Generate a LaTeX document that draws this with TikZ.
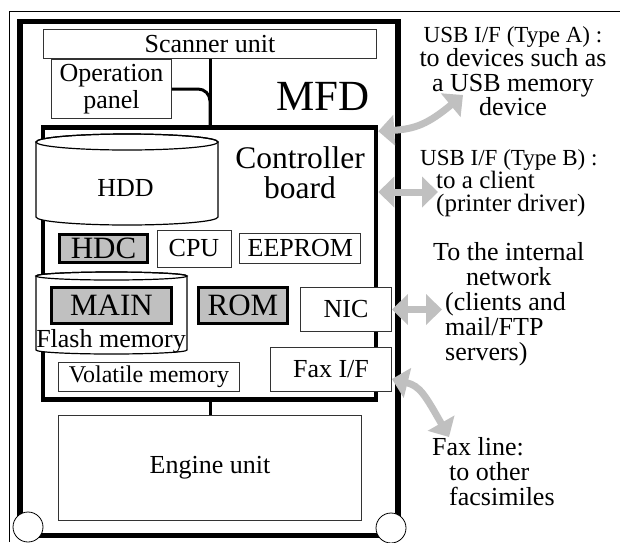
\documentclass[tikz,border=0pt]{standalone}
\usepackage{fontspec}
\setmainfont{Liberation Serif}
\usetikzlibrary{arrows.meta,positioning}

\definecolor{chipgray}{RGB}{192,192,192}
\definecolor{linkgray}{RGB}{192,192,192}

\begin{document}
\begin{tikzpicture}[x=1pt,y=-1pt,
                    box/.style={draw=black!80,line width=0.9pt,fill=white,inner sep=0pt,
                                font=\fontsize{26}{27}\selectfont},
                    chip/.style={draw,line width=3pt,fill=chipgray,inner sep=0pt,
                                 font=\fontsize{31}{31}\selectfont},
                    bus/.style={line width=3pt},
                    link/.style={draw=linkgray,line width=7pt,
                                 {Triangle[width=30pt,length=16pt]}-{Triangle[width=30pt,length=16pt]}},
                    note/.style={inner sep=0pt,font=\fontsize{26}{25}\selectfont}]
  \tikzstyle{drum}=[draw,line width=1.2pt,fill=white]
  \useasboundingbox (0,0) rectangle (620,542);

  % frame and MFD body
  \draw[line width=0.8pt] (9.5,542) -- (9.5,11) -- (620,11);
  \node[draw,line width=5.5pt,inner sep=0pt,minimum width=378pt,minimum height=514pt]
        (mfd) at (209,278.5) {};
  \node[anchor=base,font=\fontsize{43}{43}\selectfont] (mfdlabel) at (323,110) {MFD};

  \node[box,minimum width=333pt,minimum height=29pt] (scan)  at (210,44)    {Scanner unit};
  \node[box,minimum width=120pt,minimum height=59pt,align=center]
                                                       (panel) at (111.5,89)  {Operation\\panel};

  % controller board
  \node[draw,line width=4.5pt,inner sep=0pt,minimum width=333pt,minimum height=272pt]
        (board) at (209.5,263.5) {};
  \node[anchor=north,align=center,font=\fontsize{31.5}{30}\selectfont]
        (boardlabel) at (300,143.5) {Controller\\board};

  \draw[bus] (scan.south) -- (scan.south |- board.north);
  \draw[bus,rounded corners=12pt] (panel.east) -| (scan.south |- board.north);

  % HDD
  \draw[drum] (36,142) -- (36,217) arc[start angle=180,end angle=360,x radius=91pt,y radius=8pt]
              -- (218,142) arc[start angle=0,end angle=180,x radius=91pt,y radius=8pt] -- cycle;
  \draw[line width=1.2pt] (127,142) ellipse[x radius=91pt,y radius=8pt];
  \node[anchor=base,font=\fontsize{26}{26}\selectfont] (hdd) at (125.5,196) {HDD};

  \node[chip,minimum width=88pt,minimum height=28pt]  (hdc)    at (103.5,248.5) {HDC};
  \node[box,minimum width=74pt,minimum height=37pt]   (cpu)    [right=7.5pt of hdc] {CPU};
  \node[box,minimum width=121pt,minimum height=30pt]  (eeprom) [right=8pt of cpu]   {EEPROM};

  % flash memory
  \draw[drum] (36,276) -- (36,350) arc[start angle=180,end angle=360,x radius=75.5pt,y radius=4pt]
              -- (187,276) arc[start angle=0,end angle=180,x radius=75.5pt,y radius=4pt] -- cycle;
  \draw[line width=1.2pt] (111.5,276) ellipse[x radius=75.5pt,y radius=4pt];
  \node[chip,minimum width=120pt,minimum height=36pt] (main)  at (111.5,305.5) {MAIN};
  \node[anchor=base,font=\fontsize{26}{26}\selectfont] (flash) at (111,347) {Flash memory};
  \node[chip,minimum width=89pt,minimum height=36pt]  (rom)   [right=24pt of main] {ROM};

  \node[box,minimum width=91pt,minimum height=44pt]   (nic)   at (346,309.5) {NIC};
  \node[box,minimum width=121pt,minimum height=44pt]  (fax)   at (331,369.5) {Fax I/F};
  \node[box,minimum width=181pt,minimum height=29pt,font=\fontsize{24}{24}\selectfont]
                                                      (ram)   at (149,377)   {Volatile memory};

  % engine and wheels
  \node[box,minimum width=303pt,minimum height=105pt] (engine) at (210,468) {Engine unit};
  \draw[bus] (engine.north |- board.south) -- (engine.north);
  \node[circle,draw,fill=white,line width=0.8pt,minimum size=30pt,inner sep=0pt] (wheelL) at (28,527)  {};
  \node[circle,draw,fill=white,line width=0.8pt,minimum size=30pt,inner sep=0pt] (wheelR) at (391,528) {};

  % outside links
  \node[note,align=center,anchor=north,font=\fontsize{26}{24.5}\selectfont] (usba) at (513,26)
        {{\fontsize{23}{24}\selectfont USB I/F (Type A) :}\\to devices such as\\a USB memory\\device};
  \node[note,align=left,anchor=north west,font=\fontsize{25}{23}\selectfont] (usbb) at (436,149)
        {\hspace*{-16pt}{\fontsize{23}{21}\selectfont USB I/F (Type B) :}\\to a client\\(printer driver)};
  \node[note,align=left,anchor=north west] (lan) at (445,242)
        {\hspace*{-12pt}To the internal\\\hspace*{21pt}network\\(clients and\\mail/FTP\\servers)};
  \node[note,align=left,anchor=north west] (faxline) at (449,437)
        {\hspace*{-17pt}Fax line:\\to other\\facsimiles};

  \coordinate (usbaend) at (463,95);
  \coordinate (usbbend) at (438,192);
  \coordinate (lanend)  at (442,309.5);
  \coordinate (faxend)  at (449,437);

  \draw[link] ([yshift=-6pt]board.north east) .. controls (415,129) and (428,124) .. (usbaend);
  \draw[link] (usbbend -| board.east) -- (usbbend);
  \draw[link] (nic.east) -- (lanend);
  \draw[link] ([yshift=-9.5pt]fax.east) .. controls (420,386) and (425,395) .. (faxend);
\end{tikzpicture}
\end{document}
